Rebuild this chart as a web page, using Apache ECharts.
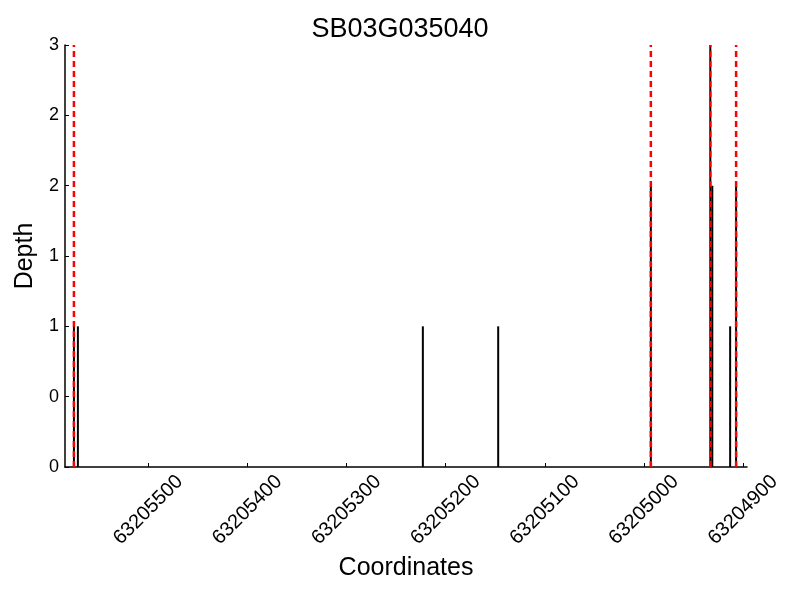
<!DOCTYPE html>
<html><head><meta charset="utf-8">
<script src="https://cdn.jsdelivr.net/npm/echarts@6/dist/echarts.min.js"></script>
<style>html,body{margin:0;padding:0;background:#fff}#c{width:800px;height:600px}</style>
</head><body><div id="c"></div>
<script>
const title = "SB03G035040";
const positions = [63205575, 63205571, 63205223, 63205147, 63204993, 63204933, 63204931, 63204913, 63204907];
const depths = [1, 1, 1, 1, 2, 3, 2, 1, 2];
const markers = [63205575, 63204993, 63204933, 63204907];
const xTicks = [63205500, 63205400, 63205300, 63205200, 63205100, 63205000, 63204900];
const yMax = 3;

const chart = echarts.init(document.getElementById('c'), null, {renderer: 'canvas'});
const font = '"Liberation Sans", Arial, sans-serif';

function vline(dashed) {
  return function (params, api) {
    const x = api.value(0), y = api.value(1);
    const p0 = api.coord([x, 0]), p1 = api.coord([x, y]);
    return {
      type: 'line',
      shape: {x1: p0[0], y1: p0[1], x2: p1[0], y2: p1[1]},
      style: dashed ? {stroke: '#ff0000', lineWidth: 2.5, lineDash: [6, 4]} : {stroke: '#000', lineWidth: 2}
    };
  };
}

chart.setOption({
  animation: false,
  title: {text: title, left: 'center', top: 11, textStyle: {fontFamily: font, fontSize: 27, fontWeight: 'normal', color: '#000'}},
  grid: {left: 65, right: 53, top: 45, bottom: 133},
  xAxis: {
    type: 'value', inverse: true, min: 63204896, max: 63205584,
    name: 'Coordinates', nameLocation: 'middle', nameGap: 88,
    nameTextStyle: {fontFamily: font, fontSize: 25, color: '#000'},
    axisLine: {show: true, lineStyle: {color: '#000', width: 1.5}},
    axisTick: {show: true, inside: true, length: 4, customValues: xTicks, lineStyle: {color: '#000'}},
    axisLabel: {customValues: xTicks, rotate: 45, align: 'center', verticalAlign: 'middle',
      fontFamily: font, fontSize: 20, color: '#000', margin: 43, formatter: v => String(v)},
    splitLine: {show: false}
  },
  yAxis: {
    type: 'value', min: 0, max: yMax, interval: 0.5,
    name: 'Depth', nameLocation: 'middle', nameGap: 27,
    nameTextStyle: {fontFamily: font, fontSize: 25, color: '#000'},
    axisLine: {show: true, lineStyle: {color: '#000', width: 1.5}},
    axisTick: {show: true, inside: true, length: 4, lineStyle: {color: '#000'}},
    axisLabel: {fontFamily: font, fontSize: 18, color: '#000', margin: 6, formatter: v => String(Math.floor(v))},
    splitLine: {show: false}
  },
  series: [
    {type: 'custom', renderItem: vline(false), data: positions.map((p, i) => [p, depths[i]]), z: 2},
    {type: 'custom', renderItem: vline(true), data: markers.map(p => [p, yMax]), z: 3}
  ]
});
</script></body></html>
